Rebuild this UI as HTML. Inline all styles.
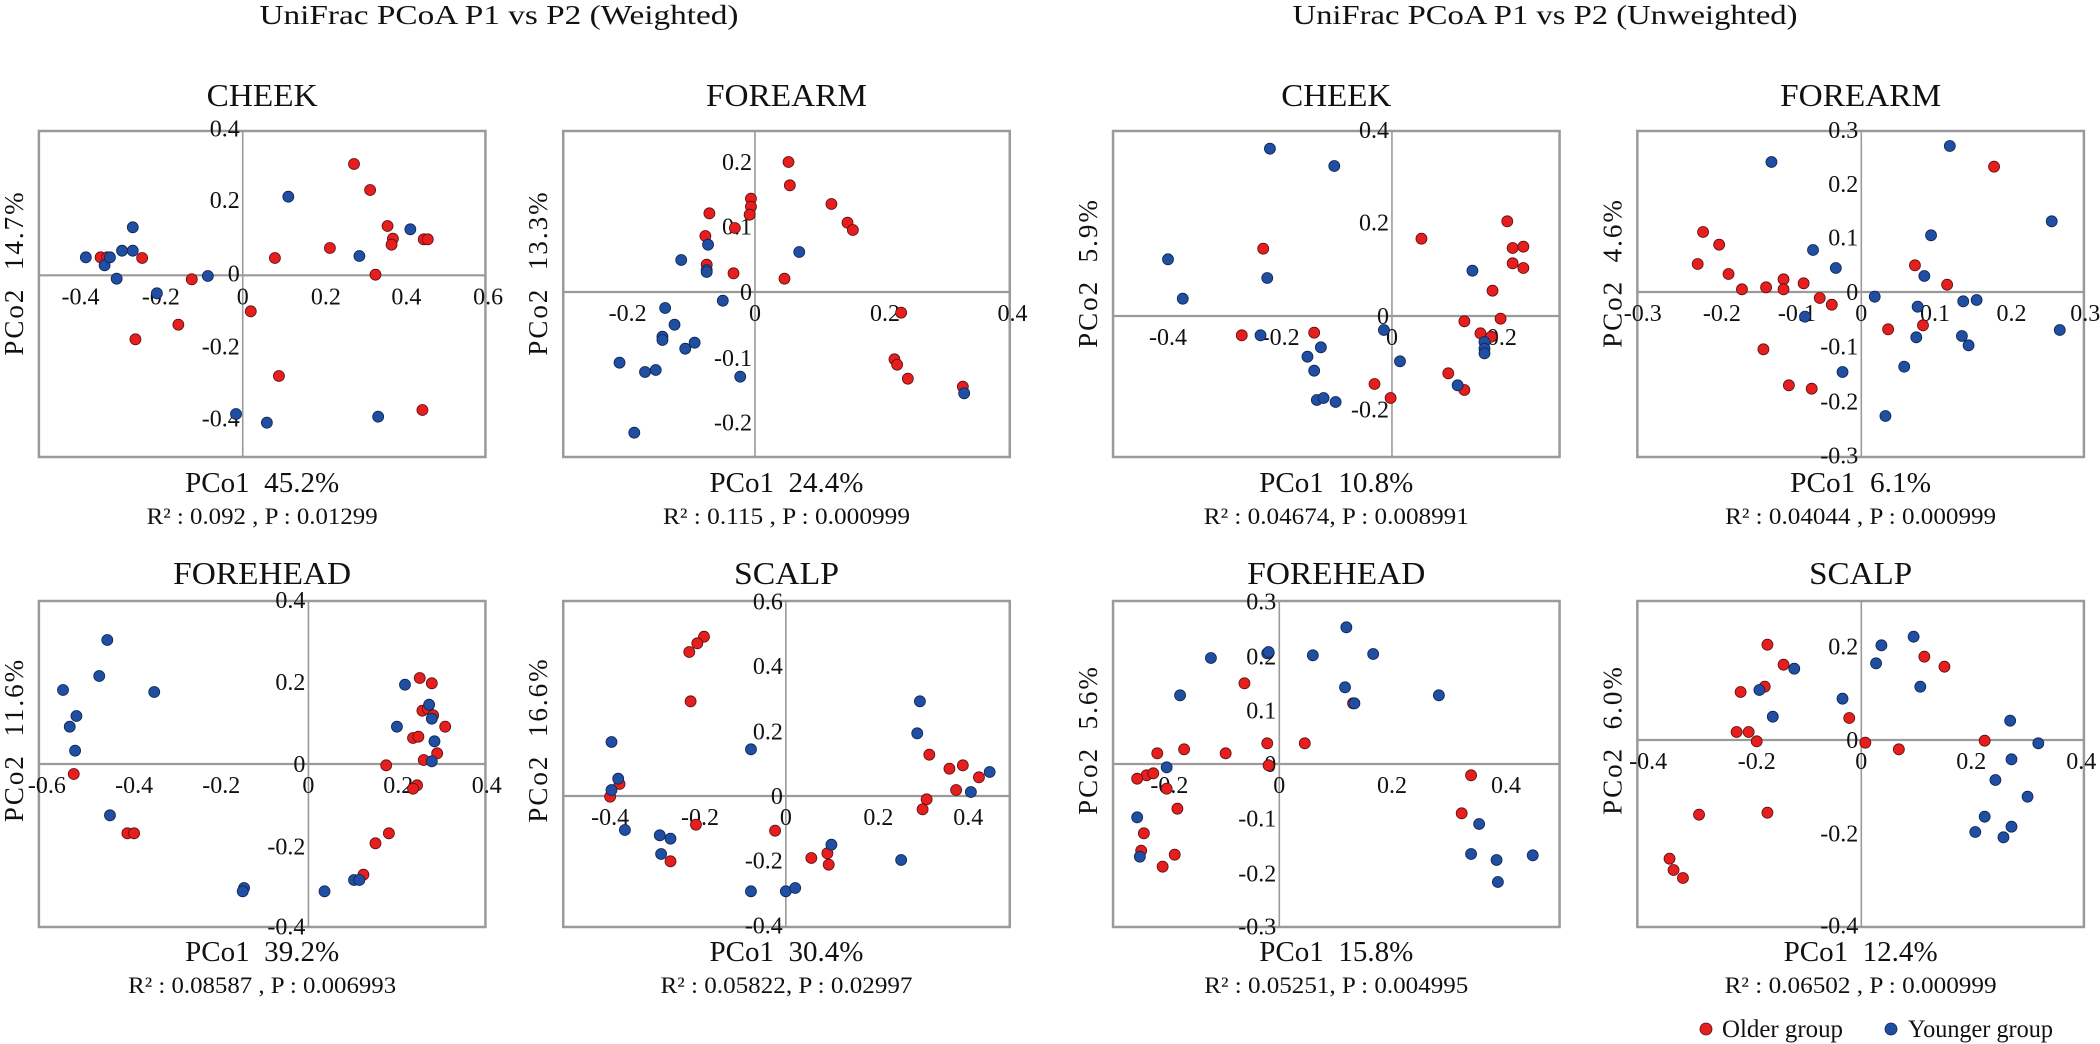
<!DOCTYPE html>
<html><head><meta charset="utf-8"><style>
html,body{margin:0;padding:0;background:#fff}
svg{display:block}
text{font-family:"Liberation Serif",serif;fill:#111;white-space:pre}
</style></head><body>
<svg id="s" width="2100" height="1044" xmlns="http://www.w3.org/2000/svg"></svg>
<script>
const sx=2100/1566, sy=1044/1566;
const NS="http://www.w3.org/2000/svg";
const s=document.getElementById('s');
function el(t,a,txt){const e=document.createElementNS(NS,t);for(const k in a)e.setAttribute(k,a[k]);if(txt!==undefined)e.textContent=txt;s.appendChild(e);return e;}
function tl(x,y,size,txt,len,anchor){const a={x:x,y:y,'font-size':size,'text-anchor':anchor||'middle'};if(len){a.textLength=len;a.lengthAdjust='spacingAndGlyphs';}return el('text',a,txt);}
tl(499,24,27,'UniFrac PCoA P1 vs P2 (Weighted)',479);
tl(1545,24,27,'UniFrac PCoA P1 vs P2 (Unweighted)',505);
const P=[
{t:'CHEEK',tw:111,rw:231,fx:[29,362],row:0,ax:181,ay:413,xt:[['-0.4',60],['-0.2',120],['0',181],['0.2',243],['0.4',303],['0.6',364]],yt:[['0.4',193],['0.2',300],['0',410],['-0.2',520],['-0.4',628]],
 pc2:'PCo2  14.7%',pc1:'PCo1  45.2%',r:'R² : 0.092 , P : 0.01299',
 B:[[64,386],[78,398],[82,386],[87,418],[91,376],[99,376],[99,341],[117,440],[155,414],[215,295],[268,384],[306,344],[176,621],[199,634],[282,625]],
 R:[[75,386],[80,386],[106,387],[101,509],[133,487],[143,419],[187,467],[205,387],[208,564],[246,372],[264,246],[276,285],[280,412],[289,339],[293,358],[292,367],[316,359],[319,359],[315,615]]},
{t:'FOREARM',tw:161,rw:247,fx:[420,753],row:0,ax:563,ay:438,xt:[['-0.2',468],['0',563],['0.2',660],['0.4',755]],yt:[['0.2',243],['0.1',340],['0',438],['-0.1',537],['-0.2',634]],
 pc2:'PCo2  13.3%',pc1:'PCo1  24.4%',r:'R² : 0.115 , P : 0.000999',
 B:[[528,367],[508,390],[527,405],[527,408],[496,462],[503,487],[494,505],[494,510],[518,514],[511,523],[462,544],[481,558],[489,555],[552,565],[539,451],[596,378],[473,649],[719,590]],
 R:[[529,320],[526,354],[527,397],[547,410],[548,342],[560,298],[560,310],[559,322],[588,243],[589,278],[585,418],[620,306],[632,334],[636,345],[672,469],[667,539],[669,547],[677,568],[718,580]]},
{t:'CHEEK',tw:110,rw:265,fx:[830,1163],row:0,ax:1038,ay:474,xt:[['-0.4',871],['-0.2',955],['0',1038],['0.2',1120]],yt:[['0.4',195],['0.2',334],['0',474],['-0.2',614]],
 pc2:'PCo2  5.9%',pc1:'PCo1  10.8%',r:'R² : 0.04674, P : 0.008991',
 B:[[947,223],[995,249],[871,389],[882,448],[945,417],[940,503],[985,521],[975,535],[980,556],[982,600],[987,597],[996,603],[1032,495],[1044,542],[1098,406],[1107,513],[1107,523],[1107,530],[1087,578]],
 R:[[942,373],[926,503],[980,499],[1060,358],[1025,576],[1037,597],[1124,332],[1128,372],[1136,370],[1128,395],[1136,402],[1113,436],[1119,478],[1092,482],[1104,500],[1112,505],[1080,560],[1092,585]]},
{t:'FOREARM',tw:161,rw:271,fx:[1221,1554],row:0,ax:1388,ay:438,xt:[['-0.3',1225],['-0.2',1284],['-0.1',1340],['0',1388],['0.1',1443],['0.2',1500],['0.3',1555]],yt:[['0.3',195],['0.2',276],['0.1',356],['0',438],['-0.1',520],['-0.2',602],['-0.3',683]],
 pc2:'PCo2  4.6%',pc1:'PCo1  6.1%',pw:141,r:'R² : 0.04044 , P : 0.000999',
 B:[[1321,243],[1454,219],[1530,332],[1440,353],[1352,375],[1369,402],[1435,414],[1398,445],[1430,460],[1464,452],[1474,450],[1346,475],[1429,506],[1463,504],[1468,518],[1536,495],[1374,558],[1420,550],[1406,624]],
 R:[[1487,250],[1270,348],[1282,367],[1266,396],[1289,411],[1299,434],[1317,431],[1330,419],[1330,434],[1345,425],[1357,447],[1366,457],[1428,398],[1452,427],[1408,494],[1434,488],[1315,524],[1334,578],[1351,583]]},
{t:'FOREHEAD',tw:178,rw:268,fx:[29,362],row:1,ax:230,ay:1146,xt:[['-0.6',35],['-0.4',100],['-0.2',165],['0',230],['0.2',297],['0.4',363]],yt:[['0.4',900],['0.2',1023],['0',1146],['-0.2',1270],['-0.4',1390]],
 pc2:'PCo2  11.6%',pc1:'PCo1  39.2%',r:'R² : 0.08587 , P : 0.006993',
 B:[[80,960],[47,1035],[74,1014],[57,1074],[52,1090],[115,1038],[56,1126],[82,1223],[182,1332],[181,1337],[242,1337],[264,1320],[268,1320],[296,1090],[302,1027],[320,1057],[322,1078],[324,1112],[322,1142]],
 R:[[55,1161],[95,1250],[100,1250],[280,1265],[290,1250],[271,1312],[288,1148],[313,1017],[322,1025],[308,1107],[312,1105],[316,1140],[315,1066],[319,1063],[323,1073],[332,1090],[326,1130],[311,1178],[308,1183]]},
{t:'SCALP',tw:105,rw:252,fx:[420,753],row:1,ax:586,ay:1194,xt:[['-0.4',455],['-0.2',522],['0',586],['0.2',655],['0.4',722]],yt:[['0.6',902],['0.4',999],['0.2',1097],['0',1194],['-0.2',1291],['-0.4',1388]],
 pc2:'PCo2  16.6%',pc1:'PCo1  30.4%',r:'R² : 0.05822, P : 0.02997',
 B:[[456,1113],[461,1168],[456,1185],[466,1245],[492,1253],[493,1281],[500,1258],[560,1124],[560,1337],[586,1337],[593,1332],[620,1267],[672,1290],[684,1100],[686,1052],[724,1188],[738,1158]],
 R:[[525,955],[520,965],[514,978],[515,1052],[519,1237],[500,1292],[462,1176],[455,1195],[578,1246],[605,1287],[617,1280],[618,1297],[691,1199],[688,1214],[693,1132],[708,1153],[718,1148],[713,1185],[730,1166]]},
{t:'FOREHEAD',tw:178,rw:264,fx:[830,1163],row:1,ax:954,ay:1146,xt:[['-0.2',872],['0',954],['0.2',1038],['0.4',1123]],yt:[['0.3',902],['0.2',985],['0.1',1066],['0',1146],['-0.1',1228],['-0.2',1310],['-0.3',1390]],
 pc2:'PCo2  5.6%',pc1:'PCo1  15.8%',r:'R² : 0.05251, P : 0.004995',
 B:[[1004,941],[903,987],[945,980],[979,983],[1024,981],[1003,1031],[1010,1055],[1073,1043],[880,1043],[870,1151],[848,1226],[850,1285],[1103,1236],[1097,1281],[1116,1290],[1117,1323],[1143,1283],[946,978]],
 R:[[1009,1055],[928,1025],[945,1115],[973,1115],[946,1148],[914,1130],[883,1124],[863,1130],[855,1163],[848,1168],[860,1160],[870,1183],[878,1213],[853,1250],[851,1276],[867,1300],[876,1282],[1097,1163],[1090,1220]]},
{t:'SCALP',tw:103,rw:272,fx:[1221,1554],row:1,ax:1388,ay:1110,xt:[['-0.4',1229],['-0.2',1310],['0',1388],['0.2',1470],['0.4',1552]],yt:[['0.2',970],['0',1110],['-0.2',1250],['-0.4',1388]],
 pc2:'PCo2  6.0%',pc1:'PCo1  12.4%',r:'R² : 0.06502 , P : 0.000999',
 B:[[1403,968],[1427,955],[1399,995],[1432,1030],[1338,1003],[1312,1035],[1322,1075],[1374,1048],[1499,1081],[1520,1115],[1500,1139],[1488,1170],[1512,1195],[1480,1225],[1473,1248],[1500,1240],[1494,1256]],
 R:[[1318,967],[1330,997],[1316,1030],[1298,1038],[1295,1098],[1304,1098],[1310,1112],[1379,1077],[1391,1114],[1416,1124],[1435,985],[1450,1000],[1480,1111],[1267,1222],[1318,1219],[1245,1288],[1248,1305],[1255,1317]]}
];
const rows=[{top:131,bot:457,title:106,pc1:492,r:524,pc2:273},{top:601,bot:927,title:584,pc1:961,r:993,pc2:740}];
for(const p of P){
 const R=rows[p.row];
 const x0=p.fx[0]*sx,x1=p.fx[1]*sx,w=x1-x0,cx=(x0+x1)/2;
 el('rect',{x:x0,y:R.top,width:w,height:R.bot-R.top,fill:'none',stroke:'#9a9a9a','stroke-width':2.5});
 const ax=p.ax*sx,ay=p.ay*sy;
 el('line',{x1:ax,y1:R.top,x2:ax,y2:R.bot,stroke:'#9a9a9a','stroke-width':1.6});
 el('line',{x1:x0,y1:ay,x2:x1,y2:ay,stroke:'#9a9a9a','stroke-width':2.2});
 tl(cx,R.title,32,p.t,p.tw);
 for(const [l,v] of p.xt) el('text',{x:v*sx,y:ay+29,'font-size':24,'text-anchor':'middle'},l);
 for(const [l,v] of p.yt) el('text',{x:ax-3,y:v*sy+8,'font-size':24,'text-anchor':'end'},l);
 for(const q of p.R) el('circle',{cx:q[0]*sx,cy:q[1]*sy,r:5.5,fill:'#e61e1e',stroke:'#5a1010','stroke-width':0.8});
 for(const q of p.B) el('circle',{cx:q[0]*sx,cy:q[1]*sy,r:5.5,fill:'#1f4ea3',stroke:'#10254f','stroke-width':0.8});
 const ly=R.pc2, lx=x0-16;
 el('text',{x:lx,y:ly,'font-size':27,'text-anchor':'middle',transform:`rotate(-90 ${lx} ${ly})`,'letter-spacing':'2'},p.pc2);
 tl(cx,R.pc1,28,p.pc1,p.pw||154);
 tl(cx,R.r,23,p.r,p.rw);
}
el('circle',{cx:1706,cy:1029,r:6,fill:'#e61e1e',stroke:'#5a1010','stroke-width':0.8});
tl(1722,1037,25,'Older group',121,'start');
el('circle',{cx:1891,cy:1029,r:6,fill:'#1f4ea3',stroke:'#10254f','stroke-width':0.8});
tl(1908,1037,25,'Younger group',145,'start');
</script>
</body></html>
